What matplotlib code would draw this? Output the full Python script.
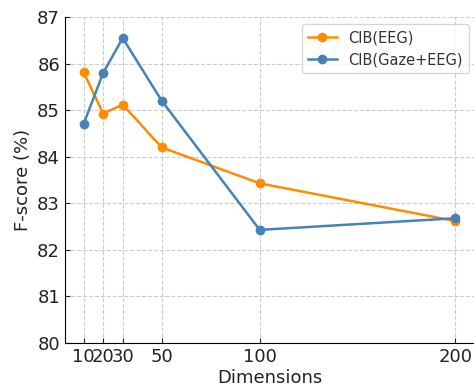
import matplotlib
matplotlib.use("Agg")
import matplotlib.pyplot as plt

dims = [10, 20, 30, 50, 100, 200]
eeg = [85.82, 84.93, 85.12, 84.20, 83.43, 82.62]
gaze_eeg = [84.70, 85.80, 86.55, 85.20, 82.43, 82.68]

fig = plt.figure(figsize=(4.74, 3.87), dpi=100)
ax = fig.add_axes([0.137, 0.1137, 0.863, 0.842])

ax.plot(dims, eeg, 'o-', color='darkorange', lw=1.8, ms=6, label='CIB(EEG)')
ax.plot(dims, gaze_eeg, 'o-', color='steelblue', lw=1.8, ms=6, label='CIB(Gaze+EEG)')

ax.set_xlim(0.5, 209.5)
ax.set_ylim(80, 87)
ax.set_xticks(dims)
ax.tick_params(direction='in', labelsize=13, colors='#222222')
ax.grid(True, linestyle='--', color='#cccccc', lw=0.8)
ax.spines['top'].set_visible(False)
ax.spines['right'].set_visible(False)
ax.set_xlabel('Dimensions', fontsize=13, color='#222222', labelpad=2)
ax.set_ylabel('F-score (%)', fontsize=13, color='#222222')
leg = ax.legend(loc='upper right', fontsize=10.5, bbox_to_anchor=(1.005, 1.0))
for t in leg.get_texts():
    t.set_color('#333333')

fig.savefig('out.png', dpi=100)
